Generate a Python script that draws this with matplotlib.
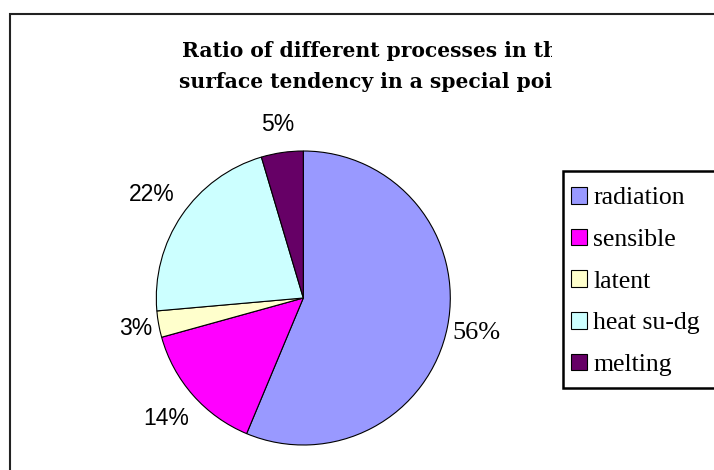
import matplotlib
matplotlib.use('Agg')
import matplotlib.pyplot as plt
from matplotlib.patches import Rectangle
from matplotlib.transforms import Bbox, TransformedBbox
from matplotlib.font_manager import FontProperties
import numpy as np

# ---- data ----
categories = ['radiation', 'sensible', 'latent', 'heat su-dg', 'melting']
values = [56.3, 14.4, 2.9, 21.8, 4.6]
colors = ['#9999FF', '#FF00FF', '#FFFFCC', '#CCFFFF', '#660066']
title_lines = ['Ratio of different processes in the', 'surface tendency in a special point']

# ---- layout (pixels) ----
W, H = 714, 470
fig = plt.figure(figsize=(W / 100, H / 100), dpi=100)
fig.patch.set_facecolor('white')


def fx(px):
    return px / W


def fy(py):
    return 1 - py / H


cx, cy, r = 303.3, 298.0, 147.0
ax = fig.add_axes([fx(cx - r), fy(cy + r), 2 * r / W, 2 * r / H])
wedges, _ = ax.pie(values, colors=colors, startangle=90, counterclock=False,
                   radius=1, wedgeprops=dict(edgecolor='black', linewidth=0.8))
ax.set_xlim(-1, 1)
ax.set_ylim(-1, 1)
ax.set_aspect('auto')
ax.axis('off')

# percentage labels
label_dist = [1.20, 1.24, 1.16, 1.25, 1.19]
sans = FontProperties(family='Liberation Sans', size=16.5)
serif_lbl = FontProperties(family='Liberation Serif', size=19)
for i, (w, v, d) in enumerate(zip(wedges, values, label_dist)):
    th = np.deg2rad((w.theta1 + w.theta2) / 2)
    ax.text(d * np.cos(th), d * np.sin(th), f"{round(v)}%",
            ha='center', va='center', clip_on=False,
            fontproperties=serif_lbl if i == 0 else sans, color='black')

# title (clipped at the right, as in the reference)
clip = TransformedBbox(Bbox([[0, 0], [552 / W, 1]]), fig.transFigure)
for txt, x0, yb in zip(title_lines, [182, 179], [56.7, 88.0]):
    t = fig.text(fx(x0), fy(yb), txt, ha='left', va='baseline',
                 family='DejaVu Serif', weight='bold', size=14.6, color='black')
    t.set_clip_box(clip)
    t.set_clip_on(True)

# outer chart border
fig.patches.append(Rectangle((fx(10), fy(500)), 730 / W, (500 - 14) / H,
                             transform=fig.transFigure, fill=False,
                             edgecolor='#222222', linewidth=1.5))

# legend frame (extends past the right edge)
fig.patches.append(Rectangle((fx(562.5), fy(388)), (740 - 562.5) / W, (388 - 170.5) / H,
                             transform=fig.transFigure, fill=True, facecolor='white',
                             edgecolor='black', linewidth=1.8, zorder=0.5))

leg_fs = 18.5
leg_fs_px = leg_fs * 100 / 72


def make_legend(spacing, ax_px, ay_px):
    return fig.legend(wedges, categories, loc='upper left',
                      bbox_to_anchor=(fx(ax_px), fy(ay_px)),
                      bbox_transform=fig.transFigure,
                      prop=FontProperties(family='Liberation Serif', size=leg_fs),
                      frameon=False, handlelength=0.62, handleheight=0.62,
                      handletextpad=0.25, labelspacing=spacing, borderpad=0,
                      borderaxespad=0)


# target: first marker centre y=195.3, row pitch 41.7, marker left x=570.7
spacing = 0.5
ax_px, ay_px = 571.0, 180.0
leg = make_legend(spacing, ax_px, ay_px)
fig.canvas.draw()
ext = [h.get_window_extent() for h in leg.legend_handles]
cent = [(e.y0 + e.y1) / 2 for e in ext]
pitch = (cent[0] - cent[-1]) / (len(cent) - 1)
spacing = spacing + (41.7 - pitch) / leg_fs_px
leg.remove()
leg = make_legend(spacing, ax_px, ay_px)
fig.canvas.draw()
e0 = leg.legend_handles[0].get_window_extent()
c0_top = H - (e0.y0 + e0.y1) / 2
ay_px += 195.3 - c0_top
ax_px += 570.7 - e0.x0
leg.remove()
leg = make_legend(spacing, ax_px, ay_px)

fig.savefig('out.png', dpi=100)
